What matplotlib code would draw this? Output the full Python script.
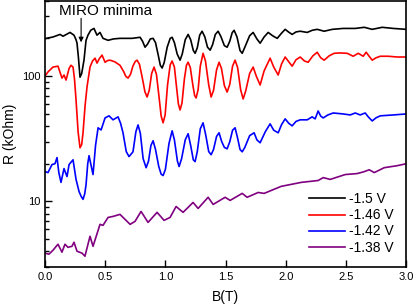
import matplotlib
matplotlib.use('Agg')
import matplotlib.pyplot as plt
from matplotlib.ticker import LogLocator, NullFormatter, FixedLocator

plt.rcParams['font.family'] = ['Liberation Sans', 'DejaVu Sans']

# Data (B in tesla, R in kOhm)
b_150 = [0, 0.066, 0.125, 0.15, 0.208, 0.241, 0.258, 0.266, 0.278, 0.291, 0.305,
         0.324, 0.341, 0.357, 0.38, 0.407, 0.432, 0.457, 0.482, 0.524, 0.57, 0.623,
         0.723, 0.79, 0.81, 0.831, 0.852, 0.875, 0.898, 0.918, 0.94, 0.958, 0.973,
         0.99, 1.015, 1.04, 1.056, 1.075, 1.098, 1.122, 1.14, 1.165, 1.189, 1.21,
         1.232, 1.247, 1.265, 1.285, 1.305, 1.328, 1.35, 1.372, 1.392, 1.415, 1.438,
         1.46, 1.49, 1.513, 1.535, 1.555, 1.571, 1.595, 1.62, 1.638, 1.66, 1.7,
         1.729, 1.76, 1.787, 1.82, 1.854, 1.89, 1.929, 1.965, 1.995, 2.025, 2.053,
         2.085, 2.12, 2.178, 2.22, 2.261, 2.319, 2.386, 2.477, 2.577, 2.652, 2.718,
         2.801, 2.893, 3.0]
r_150 = [199, 205, 215, 208, 223, 212, 195, 183, 140, 98, 105,
         134, 193, 212, 232, 240, 212, 223, 200, 193, 198, 200,
         200, 204, 190, 170, 180, 198, 200, 185, 148, 122, 116,
         128, 170, 200, 204, 185, 150, 134, 150, 195, 215, 195,
         160, 152, 168, 212, 228, 205, 170, 161, 178, 215, 228,
         208, 175, 170, 190, 222, 232, 205, 160, 152, 170, 210,
         223, 198, 183, 205, 223, 210, 200, 220, 236, 224, 215,
         225, 228, 223, 232, 236, 228, 236, 240, 240, 245, 236,
         245, 240, 236]

b_146 = [0, 0.025, 0.066, 0.108, 0.141, 0.158, 0.175, 0.2, 0.216, 0.233, 0.245,
         0.258, 0.275, 0.291, 0.305, 0.316, 0.333, 0.349, 0.374, 0.395, 0.416, 0.432,
         0.452, 0.474, 0.499, 0.52, 0.54, 0.58, 0.623, 0.655, 0.67, 0.69, 0.71,
         0.73, 0.75, 0.765, 0.785, 0.81, 0.83, 0.848, 0.866, 0.886, 0.906, 0.926,
         0.946, 0.965, 0.981, 0.998, 1.018, 1.04, 1.056, 1.075, 1.095, 1.108, 1.122,
         1.138, 1.158, 1.175, 1.189, 1.207, 1.228, 1.243, 1.255, 1.272, 1.29, 1.313,
         1.333, 1.36, 1.38, 1.4, 1.425, 1.446, 1.466, 1.49, 1.513, 1.535, 1.558,
         1.579, 1.6, 1.625, 1.646, 1.667, 1.7, 1.729, 1.755, 1.787, 1.82, 1.87,
         1.9, 1.937, 1.965, 1.995, 2.025, 2.053, 2.085, 2.12, 2.155, 2.186, 2.225,
         2.261, 2.29, 2.319, 2.36, 2.402, 2.45, 2.51, 2.56, 2.602, 2.643, 2.668,
         2.69, 2.718, 2.75, 2.785, 2.85, 2.926, 3.0]
r_146 = [100, 108, 118, 120, 96.4, 102, 93, 115, 122, 118, 95,
         64.5, 36, 26.8, 28.5, 35.3, 58, 81.8, 118, 132, 139, 127,
         138, 147, 129, 133, 134, 130, 122, 108, 100, 96.4, 103,
         120, 131, 134, 124, 95, 75, 68.1, 77, 105, 118, 103,
         70, 48, 42.4, 49, 85, 123, 132, 118, 78, 60, 53.7,
         61, 95, 122, 129, 117, 85, 70, 66.9, 78, 120, 152,
         132, 85, 68.1, 77, 112, 129, 115, 84, 74.6, 86, 120,
         134, 117, 78, 65.7, 76, 105, 118, 100, 84.9, 110, 139,
         118, 102, 125, 142, 130, 120, 135, 142, 132, 129, 145,
         155, 140, 134, 145, 152, 153, 152, 144, 152, 144, 155,
         145, 134, 140, 144, 144, 142, 142]

b_142 = [0, 0.025, 0.058, 0.083, 0.1, 0.115, 0.133, 0.158, 0.183, 0.2, 0.233,
         0.258, 0.283, 0.3, 0.316, 0.33, 0.341, 0.355, 0.366, 0.38, 0.399, 0.42,
         0.441, 0.466, 0.499, 0.532, 0.565, 0.607, 0.628, 0.648, 0.675, 0.698, 0.731,
         0.755, 0.773, 0.792, 0.815, 0.84, 0.86, 0.88, 0.898, 0.918, 0.945, 0.965,
         0.981, 1.0, 1.03, 1.056, 1.075, 1.1, 1.114, 1.135, 1.165, 1.189, 1.21,
         1.232, 1.247, 1.265, 1.29, 1.313, 1.335, 1.36, 1.38, 1.4, 1.425, 1.446,
         1.468, 1.49, 1.513, 1.535, 1.558, 1.579, 1.6, 1.62, 1.638, 1.66, 1.7,
         1.737, 1.76, 1.787, 1.83, 1.87, 1.9, 1.937, 1.965, 1.995, 2.025, 2.053,
         2.085, 2.12, 2.178, 2.219, 2.244, 2.269, 2.29, 2.311, 2.35, 2.394, 2.477,
         2.535, 2.577, 2.618, 2.66, 2.685, 2.718, 2.75, 2.785, 2.893, 3.0]
r_142 = [17.3, 17.0, 19.7, 20.0, 22.4, 17, 14.2, 18.3, 15.8, 19.7, 21.5,
         15.0, 12.0, 11, 10.4, 11.5, 13.6, 20, 23.2, 20, 16.4, 28,
         38.7, 37.2, 46.4, 48.2, 44.8, 47.3, 42, 35.3, 25, 22.8, 24.9,
         36, 40.8, 35, 22, 18.6, 21, 28, 30.5, 26, 19, 16.5,
         16.1, 18, 29, 36.6, 31, 21, 19.0, 22, 31, 34.7, 28,
         21.5, 20.8, 25, 38, 42.4, 34, 25, 23.6, 26, 33, 35.3,
         30, 27, 26.3, 30, 37, 38.7, 32, 26, 24.9, 27, 33.5,
         35.3, 31, 29.4, 36, 41.6, 37, 35.3, 41, 45.6, 42, 40.1,
         43.5, 44.8, 44.8, 47.3, 45.6, 52.7, 48, 46.4, 49, 50.8, 49.9,
         49.0, 50.8, 49.0, 50.8, 47.3, 43.9, 46.5, 48.2, 49.0, 49.9]

b_138 = [0, 0.033, 0.066, 0.108, 0.141, 0.166, 0.191, 0.224, 0.241, 0.266, 0.308,
         0.332, 0.374, 0.399, 0.457, 0.482, 0.524, 0.565, 0.623, 0.665, 0.707, 0.748,
         0.798, 0.856, 0.931, 0.989, 1.039, 1.089, 1.147, 1.23, 1.272, 1.355, 1.397,
         1.496, 1.538, 1.638, 1.679, 1.771, 1.82, 1.962, 2.128, 2.269, 2.311, 2.369,
         2.494, 2.594, 2.652, 2.693, 2.735, 2.818, 2.926, 3.0]
r_138 = [3.87, 3.80, 4.08, 4.56, 3.94, 4.56, 4.31, 4.39, 4.73, 4.01, 3.87,
         3.66, 5.28, 4.39, 6.57, 6.45, 7.46, 7.60, 7.89, 7.20, 6.57, 6.94,
         8.33, 6.81, 8.19, 7.07, 7.46, 9.12, 8.19, 9.82, 8.80, 10.8, 9.47,
         10.8, 10.2, 11.6, 10.8, 11.8, 11.6, 13.2, 14.2, 14.7, 15.5, 15.0,
         16.4, 16.7, 17.3, 17.9, 17.0, 18.6, 19.3, 20.0]

labels = ['-1.5 V', '-1.46 V', '-1.42 V', '-1.38 V']
colors = ['black', 'red', 'blue', 'purple']

fig = plt.figure(figsize=(4.15, 3.08), dpi=100)
ax = fig.add_axes([0.1084, 0.133, 0.8703, 0.865])

series = [(b_150, r_150), (b_146, r_146), (b_142, r_142), (b_138, r_138)]
for (b, r), lab, c in zip(series, labels, colors):
    ax.plot(b, r, color=c, lw=1.2, label=lab, solid_joinstyle='round')

ax.set_yscale('log')
ax.set_xlim(0, 3.0)
ax.set_ylim(3, 400)
ax.xaxis.set_major_locator(FixedLocator([0, 0.5, 1.0, 1.5, 2.0, 2.5, 3.0]))
ax.set_xticklabels(['0.0', '0.5', '1.0', '1.5', '2.0', '2.5', '3.0'])
ax.yaxis.set_major_locator(FixedLocator([10, 100]))
ax.set_yticklabels(['10', '100'])
ax.yaxis.set_minor_locator(LogLocator(base=10, subs=range(2, 10)))
ax.yaxis.set_minor_formatter(NullFormatter())
ax.tick_params(which='major', direction='in', length=5, width=1, labelsize=8)
ax.tick_params(which='minor', direction='in', length=3, width=1)
for s in ax.spines.values():
    s.set_linewidth(1.2)

ax.set_xlabel('B(T)', fontsize=10, labelpad=6)
ax.set_ylabel('R (kOhm)', fontsize=10, labelpad=3)

# annotation: label and arrow pointing at the first minimum
ax.text(0.50, 328, 'MIRO minima', ha='center', va='center', fontsize=11)
ax.annotate('', xy=(0.30, 186), xytext=(0.30, 289),
            arrowprops=dict(arrowstyle='-|>', color='black', lw=0.8,
                            mutation_scale=7, shrinkA=0, shrinkB=0))

ax.legend(loc='lower right', frameon=False, fontsize=10, handlelength=2.6,
          handletextpad=0.3, labelspacing=0.15, borderaxespad=0.5)

fig.savefig('out.png', dpi=100)
